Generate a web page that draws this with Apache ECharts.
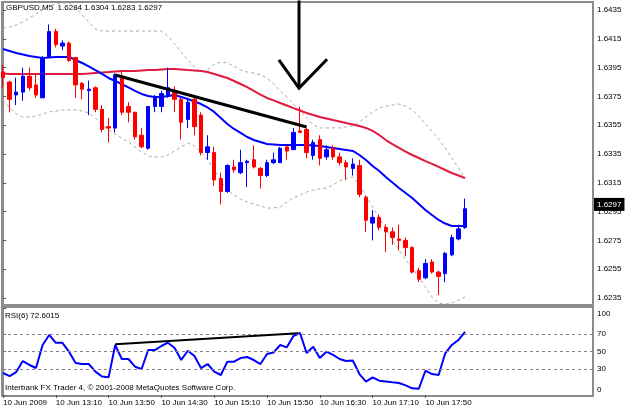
<!DOCTYPE html>
<html>
<head>
<meta charset="utf-8">
<script src="https://cdn.jsdelivr.net/npm/echarts@6/dist/echarts.min.js"></script>
<style>
  html, body { margin: 0; padding: 0; background: #fff; }
  #chart { width: 625px; height: 409px; }
</style>
</head>
<body>
<div id="chart"></div>
<script>
"use strict";
// bars: [open, close, low, high], 5 min each from 12:30
var candles = [
  [1.6392, 1.6388, 1.6381, 1.6397], [1.6385, 1.6373, 1.6364, 1.6386], [1.6376, 1.6378, 1.6369, 1.6388],
  [1.6378, 1.6389, 1.6372, 1.6395], [1.6389, 1.6381, 1.6379, 1.6395], [1.6383, 1.6376, 1.6374, 1.6390],
  [1.6374, 1.6402, 1.6374, 1.6403], [1.6402, 1.6420, 1.6402, 1.6425], [1.6420, 1.6411, 1.6409, 1.6422],
  [1.6410, 1.6412, 1.6407, 1.6414], [1.6412, 1.6400, 1.6399, 1.6413], [1.6402, 1.6383, 1.6374, 1.6402],
  [1.6384, 1.6380, 1.6373, 1.6385], [1.6379, 1.6380, 1.6362, 1.6386], [1.6381, 1.6366, 1.6364, 1.6382],
  [1.6366, 1.6352, 1.6350, 1.6369], [1.6354, 1.6353, 1.6343, 1.6360], [1.6353, 1.6390, 1.6350, 1.6391],
  [1.6389, 1.6364, 1.6362, 1.6393], [1.6368, 1.6364, 1.6357, 1.6371], [1.6364, 1.6347, 1.6345, 1.6364],
  [1.6348, 1.6340, 1.6339, 1.6353], [1.6339, 1.6368, 1.6338, 1.6368], [1.6368, 1.6374, 1.6364, 1.6376],
  [1.6368, 1.6377, 1.6364, 1.6379], [1.6375, 1.6381, 1.6374, 1.6395], [1.6379, 1.6373, 1.6364, 1.6382],
  [1.6373, 1.6357, 1.6345, 1.6374], [1.6359, 1.6371, 1.6353, 1.6374], [1.6373, 1.6354, 1.6348, 1.6374],
  [1.6362, 1.6336, 1.6334, 1.6364], [1.6336, 1.6340, 1.6331, 1.6348], [1.6336, 1.6317, 1.6313, 1.6340],
  [1.6318, 1.6309, 1.6300, 1.6322], [1.6309, 1.6327, 1.6308, 1.6328], [1.6326, 1.6324, 1.6322, 1.6331],
  [1.6322, 1.6329, 1.6321, 1.6338], [1.6329, 1.6330, 1.6312, 1.6331], [1.6331, 1.6326, 1.6325, 1.6341],
  [1.6325, 1.6320, 1.6311, 1.6326], [1.6320, 1.6329, 1.6319, 1.6331], [1.6329, 1.6331, 1.6328, 1.6336],
  [1.6329, 1.6339, 1.6329, 1.6340], [1.6340, 1.6337, 1.6331, 1.6341], [1.6338, 1.6350, 1.6338, 1.6353],
  [1.6351, 1.6350, 1.6350, 1.6368], [1.6352, 1.6336, 1.6332, 1.6353], [1.6334, 1.6343, 1.6331, 1.6345],
  [1.6345, 1.6332, 1.6327, 1.6348], [1.6333, 1.6338, 1.6331, 1.6341], [1.6339, 1.6333, 1.6331, 1.6341],
  [1.6333, 1.6329, 1.6327, 1.6336], [1.6329, 1.6326, 1.6317, 1.6331], [1.6325, 1.6328, 1.6320, 1.6332],
  [1.6327, 1.6307, 1.6305, 1.6331], [1.6305, 1.6289, 1.6281, 1.6306], [1.6287, 1.6291, 1.6275, 1.6296],
  [1.6291, 1.6284, 1.6282, 1.6293], [1.6284, 1.6281, 1.6267, 1.6286], [1.6281, 1.6277, 1.6272, 1.6284],
  [1.6276, 1.6275, 1.6268, 1.6286], [1.6275, 1.6270, 1.6264, 1.6277], [1.6270, 1.6253, 1.6252, 1.6271],
  [1.6254, 1.6248, 1.6246, 1.6256], [1.6249, 1.6259, 1.6248, 1.6262], [1.6260, 1.6253, 1.6252, 1.6262],
  [1.6253, 1.6250, 1.6237, 1.6254], [1.6252, 1.6266, 1.6246, 1.6267], [1.6265, 1.6277, 1.6264, 1.6279],
  [1.6276, 1.6283, 1.6275, 1.6286], [1.6284, 1.6297, 1.6283, 1.6304]
];
// slow MA (red)
var redMa = [
  1.63909, 1.63906, 1.63906, 1.63906, 1.63906, 1.63906, 1.63906, 1.63906, 1.63906, 1.63906,
  1.63906, 1.63906, 1.63906, 1.63909, 1.63913, 1.63916, 1.63919, 1.63923, 1.63926, 1.63926,
  1.63926, 1.63930, 1.63933, 1.63933, 1.63937, 1.63940, 1.63940, 1.63937, 1.63933, 1.63930,
  1.63926, 1.63919, 1.63906, 1.63892, 1.63878, 1.63857, 1.63836, 1.63815, 1.63788, 1.63763,
  1.63739, 1.63722, 1.63704, 1.63687, 1.63669, 1.63652, 1.63635, 1.63621, 1.63607, 1.63597,
  1.63586, 1.63576, 1.63565, 1.63555, 1.63544, 1.63531, 1.63510, 1.63482, 1.63447, 1.63419,
  1.63392, 1.63367, 1.63343, 1.63322, 1.63301, 1.63281, 1.63260, 1.63239, 1.63218, 1.63201,
  1.63183
];
// fast MA (blue)
var blueMa = [
  1.64079, 1.64065, 1.64051, 1.64041, 1.64031, 1.64024, 1.64017, 1.64020, 1.64024, 1.64024,
  1.64024, 1.64003, 1.63982, 1.63958, 1.63933, 1.63906, 1.63878, 1.63857, 1.63836, 1.63812,
  1.63788, 1.63767, 1.63753, 1.63746, 1.63746, 1.63753, 1.63760, 1.63746, 1.63732, 1.63715,
  1.63697, 1.63673, 1.63642, 1.63600, 1.63558, 1.63524, 1.63496, 1.63468, 1.63447, 1.63433,
  1.63419, 1.63416, 1.63413, 1.63413, 1.63413, 1.63413, 1.63413, 1.63409, 1.63406, 1.63399,
  1.63392, 1.63385, 1.63378, 1.63371, 1.63343, 1.63308, 1.63267, 1.63232, 1.63190, 1.63152,
  1.63114, 1.63079, 1.63044, 1.63003, 1.62961, 1.62926, 1.62892, 1.62867, 1.62850, 1.62850,
  1.62850
];
// bands (grey dashed)
var bandUp = [
  1.64225, 1.64232, 1.64246, 1.64267, 1.64294, 1.64322, 1.64350, 1.64378, 1.64392, 1.64399,
  1.64399, 1.64364, 1.64315, 1.64267, 1.64218, 1.64204, 1.64204, 1.64204, 1.64204, 1.64204,
  1.64204, 1.64204, 1.64204, 1.64204, 1.64204, 1.64169, 1.64114, 1.64058, 1.64003, 1.63954,
  1.63919, 1.63933, 1.63975, 1.63989, 1.63982, 1.63961, 1.63933, 1.63919, 1.63912, 1.63899,
  1.63878, 1.63836, 1.63788, 1.63746, 1.63697, 1.63649, 1.63600, 1.63551, 1.63531, 1.63531,
  1.63531, 1.63531, 1.63538, 1.63544, 1.63572, 1.63607, 1.63642, 1.63669, 1.63683, 1.63690,
  1.63697, 1.63683, 1.63656, 1.63614, 1.63558, 1.63510, 1.63454, 1.63392, 1.63322, 1.63253,
  1.63183
];
var bandDown = [
  1.63725, 1.63669, 1.63628, 1.63607, 1.63607, 1.63614, 1.63628, 1.63642, 1.63649, 1.63656,
  1.63656, 1.63656, 1.63649, 1.63635, 1.63600, 1.63551, 1.63517, 1.63489, 1.63461, 1.63433,
  1.63399, 1.63364, 1.63336, 1.63329, 1.63329, 1.63343, 1.63371, 1.63399, 1.63426, 1.63406,
  1.63364, 1.63308, 1.63239, 1.63163, 1.63100, 1.63065, 1.63037, 1.63017, 1.63003, 1.62989,
  1.62975, 1.62975, 1.62982, 1.63017, 1.63044, 1.63065, 1.63086, 1.63100, 1.63107, 1.63114,
  1.63135, 1.63163, 1.63183, 1.63190, 1.63135, 1.63058, 1.62982, 1.62906, 1.62829, 1.62753,
  1.62683, 1.62614, 1.62558, 1.62496, 1.62426, 1.62357, 1.62315, 1.62308, 1.62315, 1.62336,
  1.62357
];
// RSI(6)
var rsi = [
  25.3, 21.8, 26.4, 39, 34.5, 31, 57.5, 69, 60, 60,
  49.8, 36.8, 35.6, 35.6, 26.8, 21.3, 20.3, 57.5, 41.4, 41.4,
  32.5, 29.9, 51.7, 51.7, 56.3, 60.1, 54, 40.2, 50.9, 44.8,
  31, 35.6, 26.8, 23, 38.3, 38.3, 42.5, 43.7, 40.2, 35.6,
  47.1, 48.9, 57.5, 54.8, 67.8, 71.3, 48.3, 55.5, 42.5, 49.8,
  46, 41.4, 39, 39.7, 24.1, 15.3, 20.3, 16.4, 15.5, 14.6,
  13.8, 11.1, 7.7, 7.2, 27.9, 24.1, 23, 47.9, 57.5, 63.2,
  72.6015
];
var rsiLevels = [70, 50, 30];
var rsiTicks = [100, 70, 50, 30, 0];
var priceTicks = [1.6435, 1.6415, 1.6395, 1.6375, 1.6355, 1.6335, 1.6315, 1.6295, 1.6275, 1.6255, 1.6235];
var timeBars = [0, 8, 16, 24, 32, 40, 48, 56, 64];
var timeLabels = ["10 Jun 2009", "10 Jun 13:10", "10 Jun 13:50", "10 Jun 14:30", "10 Jun 15:10",
  "10 Jun 15:50", "10 Jun 16:30", "10 Jun 17:10", "10 Jun 17:50"];
// drawn objects
var trendMain = [[17, 1.63899], [46, 1.63538]];
var trendRsi = [[17, 58.3], [44.7, 71]];
var arrowShaft = [[44.85, 1.6446], [44.85, 1.63808]];
var arrowHead = [[41.8, 1.64003], [44.85, 1.63808], [49.1, 1.64008]];

var FONT = "Liberation Sans";
var GREY = "#8c8c8c";

function idx(arr) {
  return arr.map(function (v, i) { return [i, v]; });
}

var last = candles[candles.length - 1];
var head = "GBPUSD,M5  " + [last[0], last[3], last[2], last[1]].map(function (v) { return v.toFixed(4); }).join(" ");

var xMin = -0.15, xMax = 89.39;
var plainText = { fontFamily: FONT, fontSize: 8, fontWeight: "normal", color: "#000" };

var chart = echarts.init(document.getElementById("chart"), null, { renderer: "canvas" });
chart.setOption({
  animation: false,
  backgroundColor: "#fff",
  textStyle: { fontFamily: FONT, fontSize: 8, color: "#000" },
  title: [
    { text: head, left: 6, top: 4, padding: 0, textStyle: plainText },
    { text: "RSI(6) " + rsi[rsi.length - 1].toFixed(4), left: 5, top: 312, padding: 0, textStyle: plainText },
    { text: "Interbank FX Trader 4, \u00a9 2001-2008 MetaQuotes Software Corp.", left: 5, top: 384, padding: 0, textStyle: plainText }
  ],
  grid: [
    { left: 2, top: 2, width: 591, height: 303, show: true, borderColor: GREY, borderWidth: 2, backgroundColor: "#fff" },
    { left: 2, top: 307, width: 591, height: 89, show: true, borderColor: GREY, borderWidth: 2, backgroundColor: "#fff" }
  ],
  xAxis: [
    { type: "value", gridIndex: 0, min: xMin, max: xMax, show: false },
    {
      type: "value", gridIndex: 1, min: xMin, max: xMax,
      axisLine: { show: true, lineStyle: { color: GREY, width: 1 } },
      axisTick: { show: true, customValues: timeBars, length: 3, lineStyle: { color: "#555" } },
      axisLabel: {
        customValues: timeBars, align: "left", margin: 3, fontSize: 8, fontFamily: FONT, color: "#000",
        formatter: function (v) { var k = timeBars.indexOf(Math.round(v)); return k < 0 ? "" : timeLabels[k]; }
      },
      splitLine: { show: false }
    }
  ],
  yAxis: [
    {
      type: "value", gridIndex: 0, position: "right", min: 1.6230139, max: 1.6440556,
      axisLine: { show: true, lineStyle: { color: GREY, width: 1 } },
      axisTick: { show: true, customValues: priceTicks, length: 3, lineStyle: { color: "#555" } },
      axisLabel: {
        customValues: priceTicks, margin: 4, fontSize: 8, fontFamily: FONT, color: "#000",
        formatter: function (v) { return v.toFixed(4); }
      },
      splitLine: { show: false }
    },
    {
      type: "value", gridIndex: 1, position: "right", min: -1.15, max: 101.15,
      axisLine: { show: true, lineStyle: { color: GREY, width: 1 } },
      axisTick: { show: true, customValues: rsiTicks, length: 3, lineStyle: { color: "#555" } },
      axisLabel: {
        customValues: rsiTicks, margin: 4, fontSize: 8, fontFamily: FONT, color: "#000",
        formatter: function (v) {
          if (v >= 100) return "{hi|" + v + "}";
          if (v <= 0) return "{lo|" + v + "}";
          return String(v);
        },
        rich: {
          hi: { fontSize: 8, fontFamily: FONT, color: "#000", padding: [11, 0, 0, 0] },
          lo: { fontSize: 8, fontFamily: FONT, color: "#000", padding: [0, 0, 11, 0] }
        }
      },
      splitLine: { show: false }
    }
  ],
  series: [
    {
      name: "upper", type: "line", xAxisIndex: 0, yAxisIndex: 0, data: idx(bandUp),
      symbol: "none", lineStyle: { color: "#a8a8a8", width: 1, type: [3, 3] }, z: 2
    },
    {
      name: "lower", type: "line", xAxisIndex: 0, yAxisIndex: 0, data: idx(bandDown),
      symbol: "none", lineStyle: { color: "#a8a8a8", width: 1, type: [3, 3] }, z: 2
    },
    {
      name: "slow", type: "line", xAxisIndex: 0, yAxisIndex: 0, data: idx(redMa),
      symbol: "none", lineStyle: { color: "#e0193f", width: 2 }, z: 3
    },
    {
      name: "fast", type: "line", xAxisIndex: 0, yAxisIndex: 0, data: idx(blueMa),
      symbol: "none", lineStyle: { color: "#0000ff", width: 2 }, z: 3
    },
    {
      name: "bars", type: "candlestick", xAxisIndex: 0, yAxisIndex: 0,
      data: candles.map(function (c, i) { return [i, c[0], c[1], c[2], c[3]]; }),
      barWidth: 4, z: 4,
      itemStyle: { color: "#0000ff", color0: "#ff0000", borderColor: "#0000ff", borderColor0: "#ff0000", borderWidth: 1 },
      markLine: {
        silent: true, symbol: "none",
        lineStyle: { color: "rgba(0,0,0,0)", width: 0 },
        label: {
          show: true, position: "end", distance: 1, formatter: last[1].toFixed(4),
          backgroundColor: "#000", color: "#fff", padding: [3, 3, 2, 3], fontSize: 8, fontFamily: FONT
        },
        data: [{ yAxis: last[1] }]
      }
    },
    {
      name: "trend", type: "line", xAxisIndex: 0, yAxisIndex: 0, data: trendMain,
      symbol: "none", lineStyle: { color: "#000", width: 3 }, z: 5
    },
    {
      name: "arrow", type: "line", xAxisIndex: 0, yAxisIndex: 0, data: arrowShaft,
      symbol: "none", lineStyle: { color: "#000", width: 3 }, z: 5
    },
    {
      name: "arrowHead", type: "line", xAxisIndex: 0, yAxisIndex: 0, data: arrowHead,
      symbol: "none", lineStyle: { color: "#000", width: 3, join: "miter" }, z: 5
    },
    {
      name: "RSI", type: "line", xAxisIndex: 1, yAxisIndex: 1, data: idx(rsi),
      symbol: "none", lineStyle: { color: "#0000ff", width: 2 }, z: 4,
      markLine: {
        silent: true, symbol: "none", label: { show: false },
        lineStyle: { color: "#8a7f98", width: 1, type: [3, 3] },
        data: rsiLevels.map(function (v) { return { yAxis: v }; })
      }
    },
    {
      name: "rsiTrend", type: "line", xAxisIndex: 1, yAxisIndex: 1, data: trendRsi,
      symbol: "none", lineStyle: { color: "#000", width: 2 }, z: 5
    }
  ]
});
</script>
</body>
</html>
